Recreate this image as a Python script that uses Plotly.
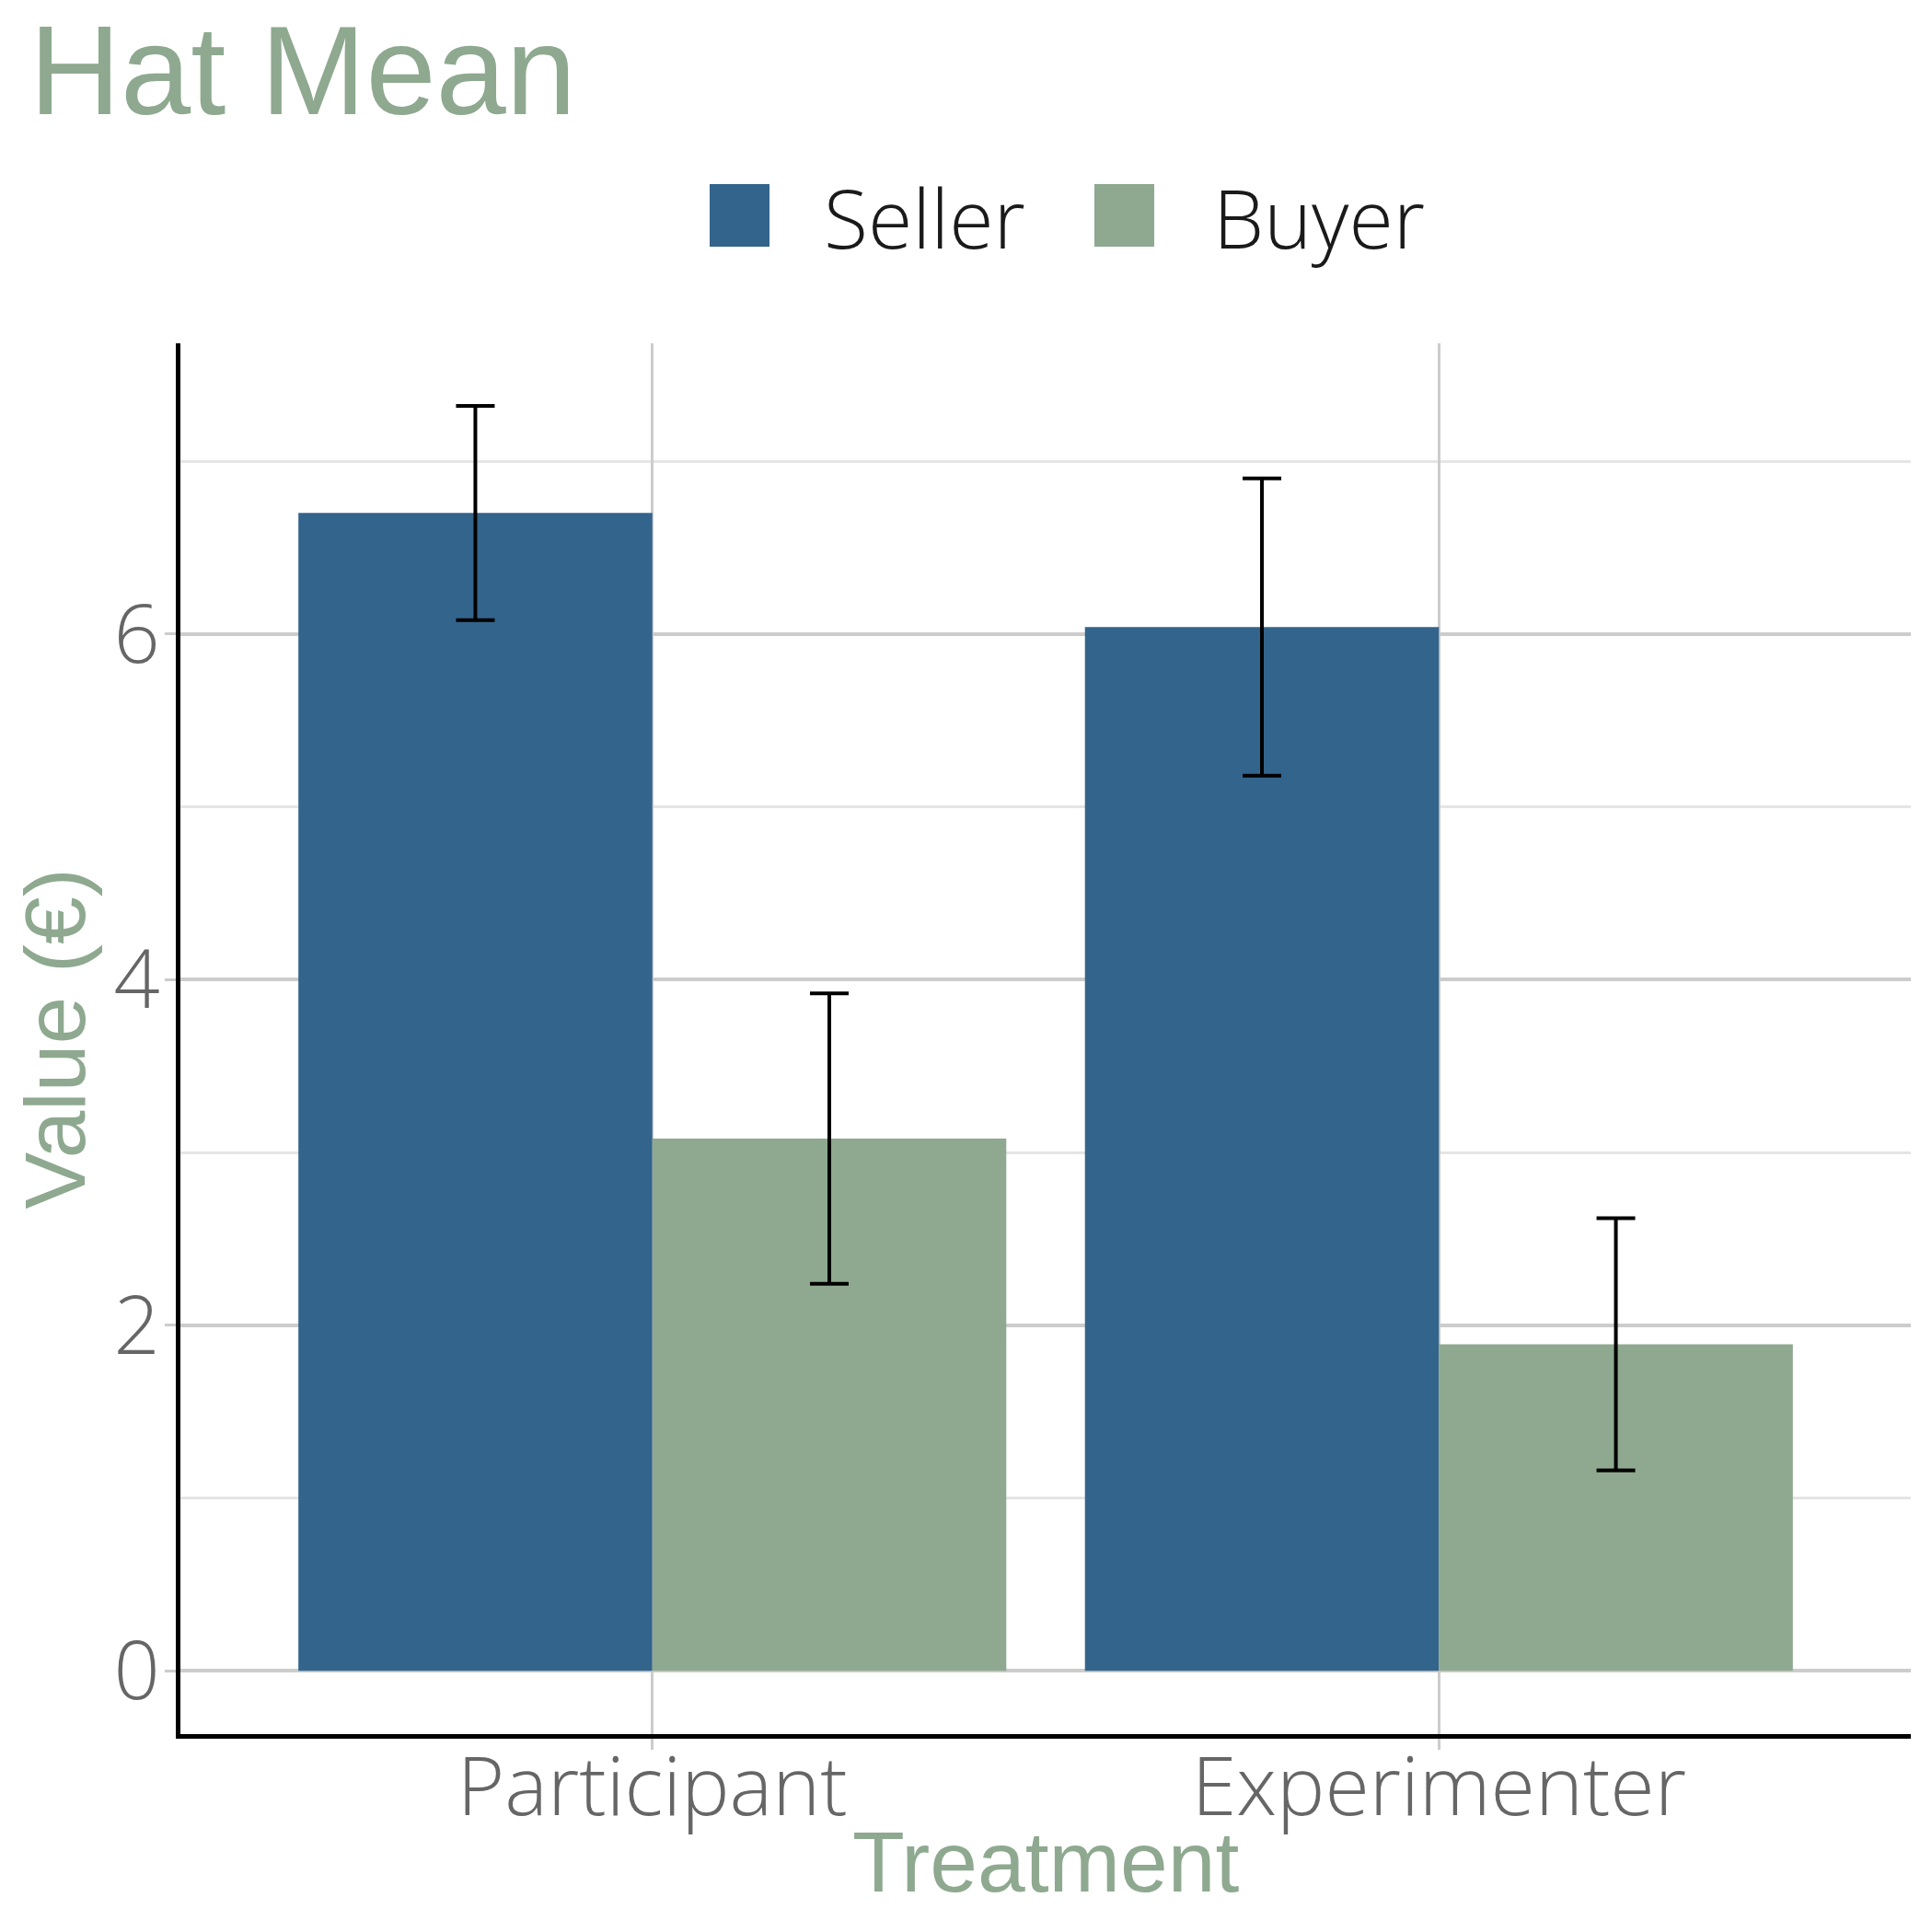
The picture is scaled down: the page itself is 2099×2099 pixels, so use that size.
import plotly.graph_objects as go

# --- Datos ---
treatments = ["Participant", "Experimenter"]
seller_mean = [6.70, 6.04]
seller_err = [0.62, 0.86]
buyer_mean = [3.08, 1.89]
buyer_err = [0.84, 0.73]
y_ticks = [0, 2, 4, 6]

SELLER = "#33648C"
BUYER = "#8EA98F"

# el navegador deja 8 px de margen en <body>; la figura se encoge para caber en la ventana
OFF = 8
W = H = 2099 - OFF
L, R, T, B = 196 - OFF, 23, 373 - OFF, 215


def px_x(px):
    """pixel de la página -> coordenada paper"""
    return (px - OFF - L) / (W - L - R)


def px_y(py):
    return (H - B - (py - OFF)) / (H - T - B)


fig = go.Figure()
for name, mean, err, color in [("Seller", seller_mean, seller_err, SELLER),
                               ("Buyer", buyer_mean, buyer_err, BUYER)]:
    fig.add_trace(go.Bar(
        x=treatments, y=mean, name=name, marker=dict(color=color, line=dict(width=0)),
        width=0.45, showlegend=False,
        error_y=dict(type="data", array=err, color="black", thickness=4, width=21),
    ))

# leyenda manual (cuadros grandes como en ggplot)
legend_items = [("Seller", SELLER, 771, 893), ("Buyer", BUYER, 1189, 1316)]
for name, color, x0, xt in legend_items:
    fig.add_shape(type="rect", xref="paper", yref="paper",
                  x0=px_x(x0), x1=px_x(x0 + 65), y0=px_y(268), y1=px_y(200),
                  fillcolor=color, line=dict(width=0))
    fig.add_annotation(text=name, xref="paper", yref="paper", x=px_x(xt), y=px_y(236),
                       xanchor="left", yanchor="middle", showarrow=False,
                       font=dict(family="Open Sans", size=88, color="#1a1a1a", weight=300))

axis_font = dict(family="Open Sans", size=88, color="#666666", weight=300)
title_font = dict(family="Liberation Sans, Arial", size=93, color=BUYER)

# título del eje x como anotación para fijar su altura
fig.add_annotation(text="Treatment", xref="paper", yref="paper", x=0.5, y=px_y(2023),
                   xanchor="center", yanchor="middle", showarrow=False, font=title_font)

fig.update_layout(
    width=W, height=H,
    margin=dict(l=L, r=R, t=T, b=B, autoexpand=False),
    paper_bgcolor="white", plot_bgcolor="white",
    barmode="group", bargap=0.1, bargroupgap=0,
    title=dict(text="Hat Mean", x=24 / W, xanchor="left", xref="container",
               y=1 - 20 / H, yanchor="top", yref="container",
               font=dict(family="Liberation Sans, Arial", size=137, color=BUYER)),
    showlegend=False,
)
fig.update_xaxes(
    range=[-0.6, 1.6], showline=True, linecolor="black", linewidth=4.5,
    showgrid=True, gridcolor="#cccccc", gridwidth=3,
    ticks="outside", ticklen=12, tickcolor="#cccccc", tickwidth=3,
    ticklabelstandoff=-34,
    tickfont=axis_font, automargin=False,
)
fig.update_yaxes(
    range=[-0.366, 7.682], tickvals=y_ticks, showline=True, linecolor="black", linewidth=4.5,
    showgrid=True, gridcolor="#cccccc", gridwidth=3.5, zeroline=False,
    minor=dict(dtick=1, tick0=0, showgrid=True, gridcolor="#e5e5e5", gridwidth=3, ticks=""),
    ticks="outside", ticklen=12, tickcolor="#cccccc", tickwidth=3,
    ticklabelstandoff=-12,
    tickfont=axis_font, title=dict(text="Value (€)", font=title_font, standoff=24),
    automargin=False,
)

fig.write_html("out.html")
